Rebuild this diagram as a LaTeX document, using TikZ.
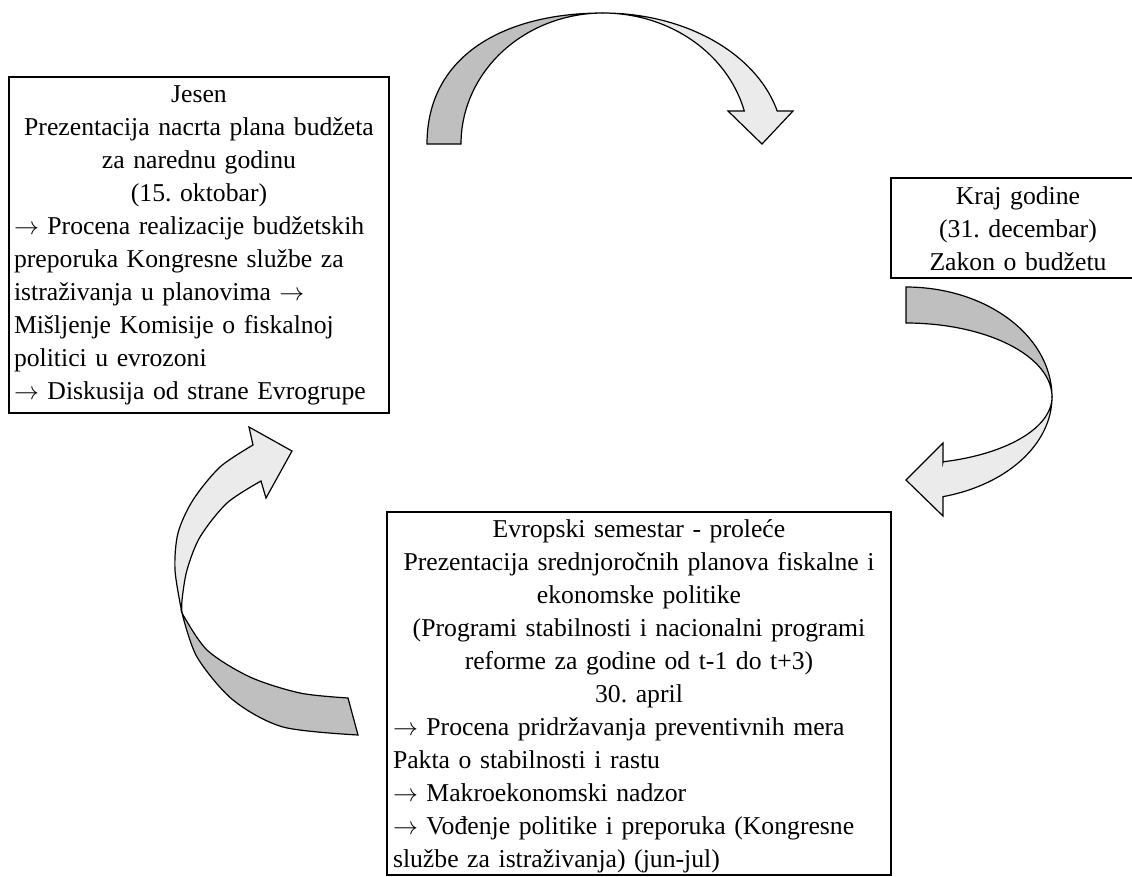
\documentclass[tikz,border=0pt]{standalone}
\usepackage{fontspec}
\setmainfont{Liberation Serif}
\newcommand\boxfont{\fontsize{25.7}{33}\selectfont\frenchspacing}
\newcommand\rarr{\ensuremath{\rightarrow}}
\definecolor{backgray}{HTML}{BFBFBF}
\definecolor{frontgray}{HTML}{EBEBEB}
\tikzset{
  frame/.style={draw, line width=1.8pt, inner sep=0pt},
  boxtext/.style={anchor=north, inner sep=0pt, align=left, font=\boxfont},
  band/.style={draw, line width=1.2pt, line join=miter},
  backband/.style={band, fill=backgray},
  frontband/.style={band, fill=frontgray},
}
\begin{document}
\begin{tikzpicture}[x=1pt, y=-1pt, samples=60]
\path[use as bounding box, clip] (0,0) rectangle (1132,876);
\fill[white] (0,0) rectangle (1132,876);

% --- autumn box (top left)
\node[frame, minimum width=380, minimum height=336] (autumnframe) at (199,245) {};
\node[boxtext, text width=370] (autumn) at ([yshift=-9pt]autumnframe.north)
  {{\centering Jesen\\
   Prezentacija nacrta plana budžeta\\
   za narednu godinu\\
   (15. oktobar)\par}
   \rarr{} Procena realizacije budžetskih\\
   preporuka Kongresne službe za\\
   istraživanja u planovima \rarr\\
   Mišljenje Komisije o fiskalnoj\\
   politici u evrozoni\\
   \rarr{} Diskusija od strane Evrogrupe};

% --- year end box (right)
\node[frame, minimum width=254, minimum height=100] (yearendframe) at (1018,228) {};
\node[boxtext, text width=244] (yearend) at ([yshift=-9pt]yearendframe.north)
  {{\centering Kraj godine\\
   (31. decembar)\\
   Zakon o budžetu\par}};

% --- spring box (bottom)
\node[frame, minimum width=504, minimum height=363] (springframe) at (639,693.5) {};
\node[boxtext, text width=492] (spring) at ([yshift=-8.5pt]springframe.north)
  {{\centering Evropski semestar - proleće\\
   Prezentacija srednjoročnih planova fiskalne i\\
   ekonomske politike\\
   (Programi stabilnosti i nacionalni programi\\
   reforme za godine od t-1 do t+3)\\
   30. april\par}
   \rarr{} Procena pridržavanja preventivnih mera\\
   Pakta o stabilnosti i rastu\\
   \rarr{} Makroekonomski nadzor\\
   \rarr{} Vođenje politike i preporuka (Kongresne\\
   službe za istraživanja) (jun-jul)};

% --- curved arrow over the top: autumn -> year end
\filldraw[backband]
  (427,144) .. controls (427,55) and (505,13) .. (603,13)
  -- plot[domain=90:180] ({603+142*cos(\x)},{144-131*sin(\x)}) -- cycle;
\filldraw[frontband]
  plot[domain=90:14.6] ({603+180*cos(\x)},{144-131*sin(\x)})
  -- (793,111) -- (762,144) -- (728,111) -- (744,111)
  -- plot[domain=14.6:90] ({603+146*cos(\x)},{144-131*sin(\x)}) -- cycle;

% --- curved arrow on the right: year end -> spring
\filldraw[backband]
  plot[domain=90:0] ({906+146*cos(\x)},{397-110*sin(\x)})
  -- plot[domain=0:90] ({906+146*cos(\x)},{397-74*sin(\x)}) -- cycle;
\filldraw[frontband]
  plot[domain=0:-75.3] ({906+146*cos(\x)},{397-103*sin(\x)})
  -- (943,516) -- (906,480) -- (943,443) -- (943,462)
  -- plot[domain=-75.3:0] ({906+146*cos(\x)},{397-67*sin(\x)}) -- cycle;

% --- curved arrow on the left: spring -> autumn
\filldraw[backband]
  plot[smooth] coordinates {(182,613) (197,657) (233,700) (283,727) (358,735)}
  -- (348,698)
  -- plot[smooth] coordinates {(348,698) (300,693) (250,677) (207,650) (182,613)} -- cycle;
\filldraw[frontband]
  plot[smooth] coordinates {(182,613) (175,570) (178,533) (193,500) (220,467) (253,445)}
  -- (249,427) -- (292,451) -- (266,498)
  -- plot[smooth] coordinates {(261,481) (227,503) (200,537) (187,570) (182,600) (182,613)} -- cycle;
\end{tikzpicture}
\end{document}
